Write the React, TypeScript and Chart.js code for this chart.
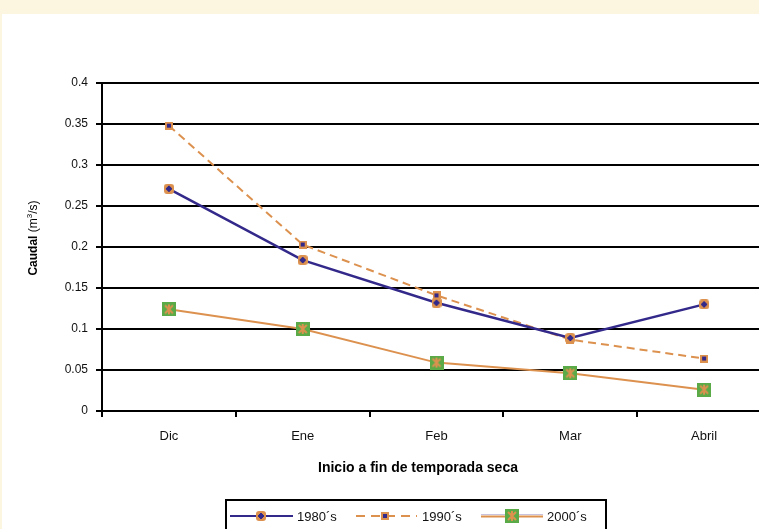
import React, { useEffect, useRef } from "react";
import { Chart, registerables } from "chart.js";

Chart.register(...registerables);

// ---- data ----
const categories = ["Dic", "Ene", "Feb", "Mar", "Abril"];
const values1980 = [0.271, 0.184, 0.132, 0.089, 0.13];
const values1990 = [0.348, 0.203, 0.141, 0.087, 0.064];
const values2000 = [0.124, 0.1, 0.059, 0.046, 0.026];
const seriesNames = ["1980´s", "1990´s", "2000´s"];
const yMin = 0;
const yMax = 0.4;
const yStep = 0.05;
const xTitle = "Inicio a fin de temporada seca";
const yTitleBold = "Caudal";
const yTitleUnitA = " (m";
const yTitleSup = "3";
const yTitleUnitB = "/s)";

// ---- styles ----
const FONT = "'Liberation Sans', Arial, Helvetica, sans-serif";
const NAVY = "#33298A";
const ORANGE = "#DC914F";
const GREEN = "#5AAB47";
const CREAM = "#FCF5E0";
const TEXT = "#111";

function makeCanvas(w: number, h: number, draw: (ctx: CanvasRenderingContext2D) => void) {
  const c = document.createElement("canvas");
  c.width = w;
  c.height = h;
  const ctx = c.getContext("2d")!;
  draw(ctx);
  return c;
}

function marker1980() {
  return makeCanvas(10, 10, (ctx) => {
    ctx.fillStyle = ORANGE;
    ctx.beginPath();
    (ctx as any).roundRect(0, 0, 10, 10, 3);
    ctx.fill();
    ctx.fillStyle = NAVY;
    ctx.fillRect(4, 2, 2, 6);
    ctx.fillRect(2, 4, 6, 2);
    ctx.fillRect(3, 3, 4, 4);
  });
}

function marker1990() {
  return makeCanvas(8, 8, (ctx) => {
    ctx.fillStyle = ORANGE;
    ctx.fillRect(0, 0, 8, 8);
    ctx.fillStyle = NAVY;
    ctx.fillRect(2, 2, 4, 4);
  });
}

function marker2000() {
  return makeCanvas(14, 14, (ctx) => {
    ctx.fillStyle = GREEN;
    ctx.fillRect(0, 0, 14, 14);
    ctx.strokeStyle = ORANGE;
    ctx.lineWidth = 2;
    ctx.beginPath();
    ctx.moveTo(3, 3);
    ctx.lineTo(11, 11);
    ctx.moveTo(11, 3);
    ctx.lineTo(3, 11);
    ctx.moveTo(7, 2);
    ctx.lineTo(7, 12);
    ctx.stroke();
  });
}

export default function App() {
  const ref = useRef<HTMLCanvasElement>(null);

  useEffect(() => {
    const m80 = marker1980();
    const m90 = marker1990();
    const m00 = marker2000();

    const overlay = {
      id: "overlay",
      afterDraw(chart: any) {
        const ctx: CanvasRenderingContext2D = chart.ctx;
        ctx.save();
        // x-axis title
        ctx.fillStyle = "#000";
        ctx.font = `bold 14px ${FONT}`;
        ctx.textAlign = "center";
        ctx.textBaseline = "middle";
        ctx.fillText(xTitle, 416, 454);

        // y-axis title (rotated, mixed weights)
        ctx.save();
        ctx.translate(32, 224);
        ctx.rotate(-Math.PI / 2);
        ctx.textAlign = "left";
        ctx.textBaseline = "middle";
        const bold = `bold 12px ${FONT}`;
        const reg = `12px ${FONT}`;
        const sup = `8px ${FONT}`;
        ctx.font = bold;
        const wB = ctx.measureText(yTitleBold).width;
        ctx.font = reg;
        const wA = ctx.measureText(yTitleUnitA).width;
        const wC = ctx.measureText(yTitleUnitB).width;
        ctx.font = sup;
        const wS = ctx.measureText(yTitleSup).width;
        let x = -(wB + wA + wS + wC) / 2;
        ctx.font = bold;
        ctx.fillText(yTitleBold, x, 0);
        x += wB;
        ctx.font = reg;
        ctx.fillText(yTitleUnitA, x, 0);
        x += wA;
        ctx.font = sup;
        ctx.fillText(yTitleSup, x, -4);
        x += wS;
        ctx.font = reg;
        ctx.fillText(yTitleUnitB, x, 0);
        ctx.restore();

        // legend box
        ctx.strokeStyle = "#000";
        ctx.lineWidth = 2;
        ctx.strokeRect(224, 486, 380, 80);

        const ly = 502;
        ctx.font = `13px ${FONT}`;
        ctx.textAlign = "left";
        ctx.textBaseline = "middle";
        ctx.fillStyle = TEXT;

        // 1980
        ctx.strokeStyle = NAVY;
        ctx.lineWidth = 2;
        ctx.beginPath();
        ctx.moveTo(228, ly);
        ctx.lineTo(291, ly);
        ctx.stroke();
        ctx.drawImage(m80, 259 - 5, ly - 5);
        ctx.fillText(seriesNames[0], 295, ly + 1);

        // 1990
        ctx.strokeStyle = ORANGE;
        ctx.setLineDash([9, 6]);
        ctx.beginPath();
        ctx.moveTo(354, ly);
        ctx.lineTo(415, ly);
        ctx.stroke();
        ctx.setLineDash([]);
        ctx.drawImage(m90, 383 - 4, ly - 4);
        ctx.fillText(seriesNames[1], 420, ly + 1);

        // 2000
        ctx.strokeStyle = "#C9C2DE";
        ctx.lineWidth = 1;
        ctx.beginPath();
        ctx.moveTo(479, ly - 1.5);
        ctx.lineTo(541, ly - 1.5);
        ctx.stroke();
        ctx.strokeStyle = ORANGE;
        ctx.lineWidth = 2;
        ctx.beginPath();
        ctx.moveTo(479, ly + 0.5);
        ctx.lineTo(541, ly + 0.5);
        ctx.stroke();
        ctx.drawImage(m00, 510 - 7, ly - 7);
        ctx.fillText(seriesNames[2], 545, ly + 1);

        ctx.restore();
      },
    };

    const chart = new Chart(ref.current!, {
      type: "line",
      data: {
        labels: categories,
        datasets: [
          {
            label: seriesNames[0],
            data: values1980,
            borderColor: NAVY,
            backgroundColor: NAVY,
            borderWidth: 2.5,
            tension: 0,
            pointStyle: m80 as any,
          },
          {
            label: seriesNames[1],
            data: values1990,
            borderColor: ORANGE,
            backgroundColor: ORANGE,
            borderWidth: 2,
            borderDash: [8, 5],
            tension: 0,
            pointStyle: m90 as any,
          },
          {
            label: seriesNames[2],
            data: values2000,
            borderColor: ORANGE,
            backgroundColor: ORANGE,
            borderWidth: 2,
            tension: 0,
            pointStyle: m00 as any,
          },
        ],
      },
      options: {
        responsive: false,
        animation: false,
        devicePixelRatio: 1,
        layout: { padding: { top: 69, right: 31, left: 0, bottom: 0 } },
        plugins: {
          legend: { display: false },
          tooltip: { enabled: false },
        },
        scales: {
          x: {
            offset: true,
            afterFit: (s: any) => {
              s.height = 133;
            },
            ticks: {
              padding: 12,
              color: TEXT,
              font: { family: FONT, size: 13 },
              maxRotation: 0,
              autoSkip: false,
            },
            grid: {
              offset: true,
              drawOnChartArea: false,
              color: "#000",
              lineWidth: 2,
              tickLength: 6,
            },
            border: { color: "#000", width: 2 },
          },
          y: {
            min: yMin,
            max: yMax,
            afterFit: (s: any) => {
              s.width = 100;
            },
            ticks: {
              stepSize: yStep,
              padding: 8,
              color: TEXT,
              font: { family: FONT, size: 12 },
              callback: (v: any) => String(Math.round(Number(v) * 100) / 100),
            },
            grid: { color: "#000", lineWidth: 2, tickLength: 6 },
            border: { color: "#000", width: 2 },
          },
        },
      },
      plugins: [overlay],
    });
    return () => chart.destroy();
  }, []);

  return (
    <div
      style={{
        position: "fixed",
        left: 0,
        top: 0,
        width: 759,
        height: 529,
        overflow: "hidden",
        background: CREAM,
      }}
    >
      <canvas
        ref={ref}
        width={800}
        height={530}
        style={{ position: "absolute", left: 2, top: 14, width: 800, height: 530, background: "#fff" }}
      />
    </div>
  );
}
